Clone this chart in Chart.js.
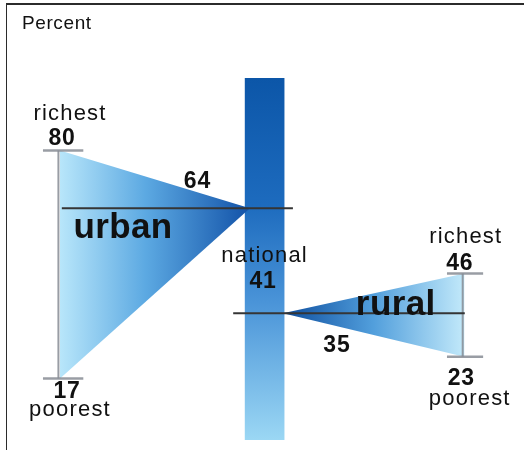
<!DOCTYPE html>
<html>
<head>
<meta charset="utf-8">
<script src="https://cdn.jsdelivr.net/npm/chart.js@4.4.1/dist/chart.umd.min.js"></script>
<style>
  html, body { margin: 0; padding: 0; background: #fff; }
  #wrap { position: relative; width: 524px; height: 450px; }
  #frame { position: absolute; left: 6px; top: 3px; right: 0; bottom: 0;
           border-top: 2px solid #2b2b2b; border-left: 1.5px solid #2b2b2b; }
</style>
</head>
<body>
<div id="wrap">
  <div id="frame"></div>
  <canvas id="gapChart"></canvas>
</div>
<script>
// values (percent)
const groups   = ['urban', 'rural'];
const richest  = [80, 46];
const poorest  = [17, 23];
const average  = [64, 35];
const national = 41;
const percentRange = [0, 100];

// horizontal placement on a 0..100 layout axis
const edgeX  = [11.45, 88.6];
const apexX  = [47.7, 54.0];
const barX   = 50.5;
const lineSpan = [[11.8, 55.9], [44.5, 88.7]];
const tickSpan = [[8.2, 15.9], [85.3, 92.2]];

const FONT = '"Liberation Sans", Arial, Helvetica, sans-serif';

function hGrad(chart, x0, x1, stops) {
  const { ctx, chartArea, scales } = chart;
  if (!chartArea) return null;
  const g = ctx.createLinearGradient(scales.x.getPixelForValue(x0), 0, scales.x.getPixelForValue(x1), 0);
  stops.forEach(([p, c]) => g.addColorStop(p, c));
  return g;
}

function barGrad(context) {
  const { ctx, chartArea } = context.chart;
  if (!chartArea) return null;
  const g = ctx.createLinearGradient(0, chartArea.top, 0, chartArea.bottom);
  g.addColorStop(0, '#0c56a8');
  g.addColorStop(0.35, '#1d6bbe');
  g.addColorStop(0.62, '#4a94d8');
  g.addColorStop(1, '#9bd7f4');
  return g;
}

const urbanStops = [[0, '#b8e6fa'], [0.45, '#5ca9e2'], [1, '#1252a8']];
const ruralStops = [[0, '#0d4d9e'], [0.5, '#529fdc'], [1, '#c2e9fa']];

const datasets = [];

// national column
datasets.push({
  type: 'bar',
  data: [{ x: barX, y: percentRange }],
  backgroundColor: barGrad,
  borderWidth: 0,
  barThickness: 39,
  order: 5
});

// triangles: richest -> group average -> poorest
groups.forEach((g, i) => {
  const stops = i === 0 ? urbanStops : ruralStops;
  const from = i === 0 ? edgeX[i] : apexX[i];
  const to = i === 0 ? apexX[i] : edgeX[i];
  datasets.push({
    type: 'line',
    data: [
      { x: edgeX[i], y: richest[i] },
      { x: apexX[i], y: average[i] },
      { x: edgeX[i], y: poorest[i] }
    ],
    fill: 'shape',
    backgroundColor: (c) => hGrad(c.chart, from, to, stops),
    borderColor: 'transparent',
    borderWidth: 0,
    pointRadius: 0,
    tension: 0,
    order: 4
  });
});

// gray brackets: vertical span plus end ticks
groups.forEach((g, i) => {
  const gray = { type: 'line', borderColor: 'rgba(135,140,148,0.85)', borderWidth: 2.5,
                 pointRadius: 0, fill: false, order: 3 };
  datasets.push({ ...gray, data: [{ x: edgeX[i] - 0.3, y: richest[i] }, { x: edgeX[i] - 0.3, y: poorest[i] }], borderWidth: 2 });
  datasets.push({ ...gray, data: [{ x: tickSpan[i][0], y: richest[i] }, { x: tickSpan[i][1], y: richest[i] }] });
  datasets.push({ ...gray, data: [{ x: tickSpan[i][0], y: poorest[i] }, { x: tickSpan[i][1], y: poorest[i] }] });
});

// dark average lines
groups.forEach((g, i) => {
  datasets.push({
    type: 'line',
    data: [{ x: lineSpan[i][0], y: average[i] }, { x: lineSpan[i][1], y: average[i] }],
    borderColor: '#353535',
    borderWidth: 2,
    pointRadius: 0,
    fill: false,
    order: 1
  });
});

function text(ctx, str, x, y, size, bold, spacing, align) {
  ctx.font = (bold ? 'bold ' : '') + size + 'px ' + FONT;
  ctx.letterSpacing = spacing + 'px';
  ctx.textAlign = align || 'center';
  ctx.textBaseline = 'alphabetic';
  ctx.fillStyle = '#111';
  ctx.fillText(str, x, y);
}

const labelPlugin = {
  id: 'labels',
  afterDatasetsDraw(chart) {
    const { ctx, scales: { x, y } } = chart;
    ctx.save();
    text(ctx, 'Percent', 22, 29, 19, false, 0.6, 'left');

    // urban
    const ux = x.getPixelForValue(edgeX[0]);
    text(ctx, 'richest', ux + 10, y.getPixelForValue(richest[0]) - 30, 22, false, 1.2);
    text(ctx, String(richest[0]), ux + 2, y.getPixelForValue(richest[0]) - 5, 23, true, 0.8);
    text(ctx, String(poorest[0]), ux + 7, y.getPixelForValue(poorest[0]) + 20, 23, true, 0.8);
    text(ctx, 'poorest', ux + 10, y.getPixelForValue(poorest[0]) + 38, 22, false, 1.2);
    text(ctx, String(average[0]), x.getPixelForValue(apexX[0]) - 52.5, y.getPixelForValue(average[0]) - 20, 23, true, 0.8);
    text(ctx, groups[0], ux + 63, y.getPixelForValue(average[0]) + 30, 35, true, 0.4);

    // national
    const nx = x.getPixelForValue(barX);
    text(ctx, 'national', nx, y.getPixelForValue(national) - 30, 22, false, 1.2);
    text(ctx, String(national), nx - 1.5, y.getPixelForValue(national) - 3.5, 23, true, 0.8);

    // rural
    const rx = x.getPixelForValue(edgeX[1]);
    text(ctx, 'richest', rx + 1.5, y.getPixelForValue(richest[1]) - 30, 22, false, 1.2);
    text(ctx, String(richest[1]), rx - 4.5, y.getPixelForValue(richest[1]) - 3.5, 23, true, 0.8);
    text(ctx, String(poorest[1]), rx - 3, y.getPixelForValue(poorest[1]) + 28, 23, true, 0.8);
    text(ctx, 'poorest', rx + 5.5, y.getPixelForValue(poorest[1]) + 48, 22, false, 1.2);
    text(ctx, String(average[1]), x.getPixelForValue(apexX[1]) + 54, y.getPixelForValue(average[1]) + 38.5, 23, true, 0.8);
    text(ctx, groups[1], rx - 68.5, y.getPixelForValue(average[1]) + 2, 35, true, 0.4);
    ctx.restore();
  }
};

new Chart(document.getElementById('gapChart'), {
  type: 'line',
  data: { datasets },
  options: {
    responsive: true,
    maintainAspectRatio: false,
    animation: false,
    layout: { padding: { left: 0, right: 0, top: 78, bottom: 10 } },
    plugins: { legend: { display: false }, tooltip: { enabled: false } },
    scales: {
      x: { type: 'linear', min: 0, max: 100, offset: false, display: false },
      y: { min: percentRange[0], max: percentRange[1], display: false }
    }
  },
  plugins: [labelPlugin]
});
</script>
</body>
</html>
